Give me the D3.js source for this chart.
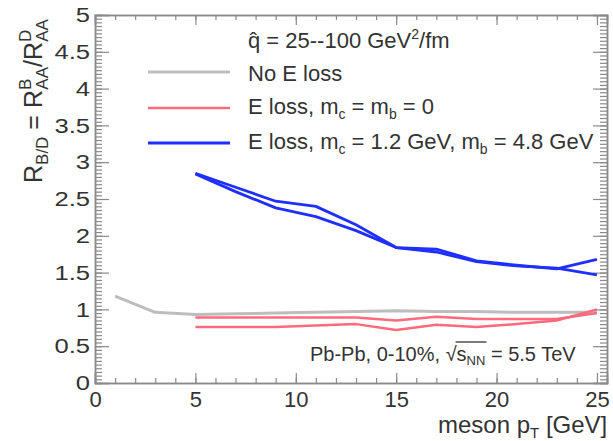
<!DOCTYPE html>
<html>
<head>
<meta charset="utf-8">
<script src="https://cdn.jsdelivr.net/npm/d3@7"></script>
<style>
    body { margin: 0; background: #fff; }
    svg { display: block; font-family: "Liberation Sans", Arial, Helvetica, sans-serif; }
    .tick text { fill: #333; }
</style>
</head>
<body>
<div id="chart"></div>
<script>
    // pT grid of the curves
    const ptNoLoss = [1, 3, 5, 7, 9, 11, 13, 15, 17, 19, 21, 23, 25];
    const ptLoss = [5, 7, 9, 11, 13, 15, 17, 19, 21, 23, 25];

    // R_B/D values
    const noEloss = [1.18, 0.96, 0.93, 0.94, 0.95, 0.96, 0.97, 0.98, 0.97, 0.97, 0.96, 0.96, 0.96];
    const masslessUpper = [0.89, 0.89, 0.89, 0.89, 0.89, 0.85, 0.90, 0.87, 0.87, 0.87, 0.95];
    const masslessLower = [0.76, 0.76, 0.76, 0.78, 0.80, 0.72, 0.79, 0.76, 0.80, 0.85, 1.00];
    const massiveUpper = [2.85, 2.66, 2.47, 2.40, 2.15, 1.84, 1.82, 1.66, 1.60, 1.55, 1.68];
    const massiveLower = [2.84, 2.60, 2.38, 2.26, 2.07, 1.84, 1.78, 1.65, 1.59, 1.56, 1.47];

    const xMajorTicks = [0, 5, 10, 15, 20, 25];
    const yMajorTicks = [0, 0.5, 1, 1.5, 2, 2.5, 3, 3.5, 4, 4.5, 5];
    const yTickLabels = ["0", "0.5", "1", "1.5", "2", "2.5", "3", "3.5", "4", "4.5", "5"];

    const W = 613, H = 441;
    const pLeft = 95, pRight = 607, pTop = 15, pBottom = 383;

    const svg = d3.select("#chart").append("svg")
        .attr("width", W)
        .attr("height", H);

    const x = d3.scaleLinear().domain([0, 25.5]).range([pLeft, pRight]);
    const y = d3.scaleLinear().domain([0, 5]).range([pBottom, pTop]);

    const axisColor = "#8a8a8a";

    function styleAxis(g) {
        g.selectAll("path.domain").attr("stroke", axisColor).attr("stroke-width", 1.5);
        g.selectAll(".tick line").attr("stroke", axisColor).attr("stroke-width", 1.2);
        g.selectAll(".tick text").attr("font-size", 22).attr("font-family", "Liberation Sans, Arial, sans-serif");
    }

    // minor ticks first
    const xMinor = d3.range(0, 26, 1);
    const yMinor = d3.range(0, 5.001, 0.05);

    svg.append("g").attr("transform", `translate(0,${pBottom})`)
        .call(d3.axisBottom(x).tickValues(xMinor).tickSize(-5).tickFormat(""))
        .call(styleAxis);
    svg.append("g").attr("transform", `translate(0,${pTop})`)
        .call(d3.axisTop(x).tickValues(xMinor).tickSize(-5).tickFormat(""))
        .call(styleAxis);
    svg.append("g").attr("transform", `translate(${pLeft},0)`)
        .call(d3.axisLeft(y).tickValues(yMinor).tickSize(-7).tickFormat(""))
        .call(styleAxis);
    svg.append("g").attr("transform", `translate(${pRight},0)`)
        .call(d3.axisRight(y).tickValues(yMinor).tickSize(-7).tickFormat(""))
        .call(styleAxis);

    // major ticks
    svg.append("g").attr("transform", `translate(0,${pBottom})`)
        .call(d3.axisBottom(x).tickValues(xMajorTicks).tickSize(-10).tickPadding(8).tickFormat(d3.format("d")))
        .call(styleAxis);
    svg.append("g").attr("transform", `translate(0,${pTop})`)
        .call(d3.axisTop(x).tickValues(xMajorTicks).tickSize(-10).tickFormat(""))
        .call(styleAxis);
    const yAxisG = svg.append("g").attr("transform", `translate(${pLeft},0)`)
        .call(d3.axisLeft(y).tickValues(yMajorTicks).tickSize(-14).tickPadding(5).tickFormat((d, i) => yTickLabels[i]))
        .call(styleAxis);
    // the y labels in the figure are drawn wider than normal
    yAxisG.selectAll(".tick text")
        .attr("font-size", 21)
        .attr("x", null)
        .attr("transform", "translate(-5,0) scale(1.22,1)");
    svg.append("g").attr("transform", `translate(${pRight},0)`)
        .call(d3.axisRight(y).tickValues(yMajorTicks).tickSize(-14).tickFormat(""))
        .call(styleAxis);

    // curves
    const line = d3.line().x(d => x(d[0])).y(d => y(d[1]));
    const curves = [
        { pt: ptNoLoss, vals: noEloss, color: "#bdbdbd", w: 3 },
        { pt: ptLoss, vals: masslessUpper, color: "#ff6b7d", w: 2.5 },
        { pt: ptLoss, vals: masslessLower, color: "#ff6b7d", w: 2.5 },
        { pt: ptLoss, vals: massiveUpper, color: "#1f2fff", w: 2.8 },
        { pt: ptLoss, vals: massiveLower, color: "#1f2fff", w: 2.8 }
    ];
    svg.append("g").selectAll("path")
        .data(curves)
        .join("path")
        .attr("d", c => line(c.pt.map((p, i) => [p, c.vals[i]])))
        .attr("fill", "none")
        .attr("stroke", c => c.color)
        .attr("stroke-width", c => c.w)
        .attr("stroke-linejoin", "round");

    // legend
    const legendColors = ["#bdbdbd", "#ff6b7d", "#1f2fff"];
    const legendY = [72, 108, 143];
    const txtColor = "#333";

    const title = svg.append("text").attr("x", 248).attr("y", 48)
        .attr("font-size", 22).attr("fill", txtColor);
    title.append("tspan").text("q\u0302 = 25--100 GeV");
    title.append("tspan").attr("font-size", 14).attr("dy", -9).text("2");
    title.append("tspan").attr("dy", 9).text("/fm");

    svg.append("g").selectAll("line")
        .data(legendColors)
        .join("line")
        .attr("x1", 148).attr("x2", 230)
        .attr("y1", (d, i) => legendY[i]).attr("y2", (d, i) => legendY[i])
        .attr("stroke", d => d)
        .attr("stroke-width", (d, i) => i === 1 ? 2.6 : 3);

    svg.append("text").attr("x", 248).attr("y", legendY[0] + 9)
        .attr("font-size", 22).attr("fill", txtColor).text("No E loss");

    const t2 = svg.append("text").attr("x", 248).attr("y", legendY[1] + 6)
        .attr("font-size", 22).attr("fill", txtColor);
    t2.append("tspan").text("E loss, m");
    t2.append("tspan").attr("font-size", 14).attr("dy", 5).text("c");
    t2.append("tspan").attr("dy", -5).text(" = m");
    t2.append("tspan").attr("font-size", 14).attr("dy", 5).text("b");
    t2.append("tspan").attr("dy", -5).text(" = 0");

    const t3 = svg.append("text").attr("x", 248).attr("y", legendY[2] + 6)
        .attr("font-size", 22).attr("fill", txtColor);
    t3.append("tspan").text("E loss, m");
    t3.append("tspan").attr("font-size", 14).attr("dy", 5).text("c");
    t3.append("tspan").attr("dy", -5).text(" = 1.2 GeV, m");
    t3.append("tspan").attr("font-size", 14).attr("dy", 5).text("b");
    t3.append("tspan").attr("dy", -5).text(" = 4.8 GeV");

    // system label
    const sys = svg.append("text").attr("x", 310).attr("y", 361)
        .attr("font-size", 20).attr("fill", txtColor);
    sys.append("tspan").text("Pb-Pb, 0-10%, \u221A");
    sys.append("tspan").text("s");
    sys.append("tspan").attr("font-size", 13).attr("dy", 4).text("NN");
    sys.append("tspan").attr("dy", -4).text(" = 5.5 TeV");
    // overline of the square root
    const sNode = sys.node();
    const full = sNode.textContent;
    const iS = full.indexOf("\u221A");
    const iEnd = full.indexOf("NN") + 1;
    const x0 = sNode.getEndPositionOfChar(iS).x;
    const x1 = sNode.getEndPositionOfChar(iEnd).x;
    svg.append("line").attr("x1", x0 - 1).attr("x2", x1 + 1)
        .attr("y1", 342).attr("y2", 342)
        .attr("stroke", txtColor).attr("stroke-width", 1.3);

    // axis titles
    const xt = svg.append("text").attr("x", 438).attr("y", 433)
        .attr("font-size", 24).attr("fill", txtColor);
    xt.append("tspan").text("meson p");
    xt.append("tspan").attr("font-size", 15).attr("dy", 5).text("T");
    xt.append("tspan").attr("dy", -5).text(" [GeV]");

    const yt = svg.append("text")
        .attr("transform", "translate(42,183) rotate(-90)")
        .attr("font-size", 25).attr("fill", txtColor);
    yt.append("tspan").text("R");
    yt.append("tspan").attr("font-size", 17).attr("dy", 6).text("B/D");
    yt.append("tspan").attr("dy", -6).text(" = R");
    yt.append("tspan").attr("font-size", 17).attr("dy", -11).text("B");
    yt.append("tspan").attr("font-size", 17).attr("dx", -11).attr("dy", 17).text("AA");
    yt.append("tspan").attr("dy", -6).text("/R");
    yt.append("tspan").attr("font-size", 17).attr("dy", -11).text("D");
    yt.append("tspan").attr("font-size", 17).attr("dx", -12).attr("dy", 17).text("AA");
</script>
</body>
</html>
